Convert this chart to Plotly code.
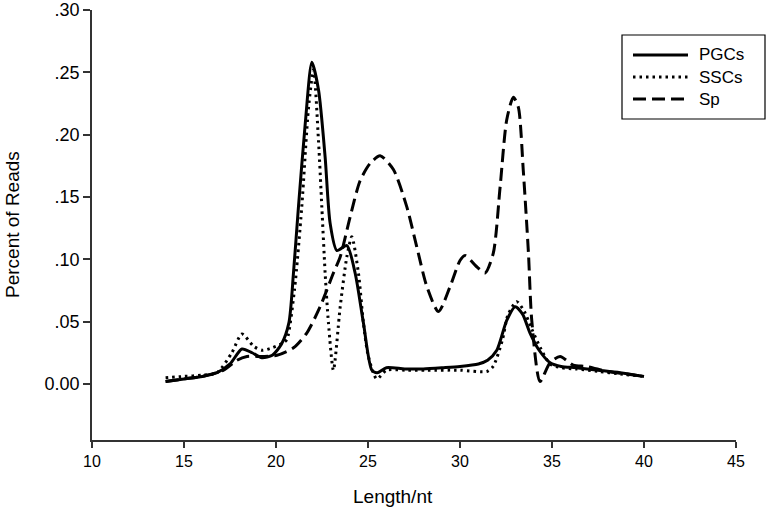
"""
Read length distribution of small RNAs (PGCs / SSCs / Sp)
"""

import plotly.graph_objects as go

# PGCs (solid)
pgc_len = [14, 15, 16, 16.8, 17.5, 18.15, 18.7, 19.23, 19.8, 20.3, 20.7, 20.95,
           21.22, 21.59, 21.95, 22.31, 22.67, 22.94, 23.31, 23.85, 24.3, 24.75,
           25.21, 25.5, 26.0, 27, 28, 29.1, 30, 31, 31.5, 32.0, 32.54, 33.0,
           33.4, 33.8, 34.3, 34.9, 35.5, 36.3, 37.5, 38.7, 40]
pgc_pct = [0.002, 0.004, 0.006, 0.009, 0.016, 0.028, 0.025, 0.021, 0.023, 0.032,
           0.049, 0.089, 0.142, 0.209, 0.258, 0.236, 0.182, 0.129, 0.107, 0.111,
           0.089, 0.049, 0.011, 0.009, 0.013, 0.012, 0.012, 0.013, 0.014, 0.016,
           0.019, 0.027, 0.051, 0.062, 0.056, 0.041, 0.027, 0.017, 0.014, 0.013,
           0.011, 0.009, 0.006]

# SSCs (dotted)
ssc_len = [14, 15, 16, 16.8, 17.6, 18.15, 18.8, 19.25, 19.8, 20.4, 20.6, 21.0,
           21.4, 21.77, 22.04, 22.31, 22.49, 22.67, 22.85, 23.12, 23.49, 23.85,
           24.12, 24.48, 24.75, 25.02, 25.48, 26.0, 27, 28.2, 30.0, 31.46, 31.8,
           32.3, 32.6, 33.08, 33.5, 33.9, 34.4, 34.9, 35.5, 36.3, 37.5, 38.7, 40]
ssc_pct = [0.005, 0.006, 0.007, 0.009, 0.025, 0.040, 0.030, 0.027, 0.029, 0.033,
           0.036, 0.075, 0.142, 0.222, 0.252, 0.195, 0.142, 0.089, 0.049, 0.011,
           0.062, 0.102, 0.118, 0.089, 0.049, 0.022, 0.004, 0.011, 0.011, 0.011,
           0.011, 0.010, 0.014, 0.035, 0.055, 0.066, 0.058, 0.044, 0.028, 0.016,
           0.013, 0.012, 0.010, 0.008, 0.006]

# Sp (dashed)
sp_len = [14, 15, 16, 17.15, 17.88, 18.42, 19.32, 20.05, 20.95, 21.68, 22.4,
          23.12, 23.49, 24.03, 24.57, 25.12, 25.66, 26.38, 27.11, 27.65, 28.2,
          28.83, 29.46, 30.0, 30.28, 30.91, 31.36, 31.81, 32.18, 32.54, 32.9,
          33.17, 33.44, 33.72, 33.9, 34.35, 34.89, 35.44, 36.16, 36.89, 38, 39, 40]
sp_pct = [0.002, 0.004, 0.006, 0.011, 0.019, 0.022, 0.022, 0.023, 0.029, 0.041,
          0.062, 0.089, 0.102, 0.134, 0.163, 0.177, 0.183, 0.172, 0.142, 0.110,
          0.078, 0.058, 0.078, 0.099, 0.103, 0.094, 0.089, 0.105, 0.158, 0.212,
          0.230, 0.222, 0.171, 0.105, 0.051, 0.002, 0.017, 0.022, 0.015, 0.014,
          0.010, 0.008, 0.006]

y_ticks = [0.0, 0.05, 0.10, 0.15, 0.20, 0.25, 0.30]
y_tick_text = ['0.00', '.05', '.10', '.15', '.20', '.25', '.30']
x_ticks = [10, 15, 20, 25, 30, 35, 40, 45]

series = [
    ('PGCs', pgc_len, pgc_pct, 'solid'),
    ('SSCs', ssc_len, ssc_pct, '2.5px,4px'),
    ('Sp', sp_len, sp_pct, '13px,6px'),
]

FONT = 'Arial, Liberation Sans, sans-serif'
W, H = 770, 514
L, R, T, B = 92, 34, 10, 74


def px(x):
    return (x - L) / (W - L - R)


def py(y):
    return (H - B - y) / (H - T - B)


fig = go.Figure()

for name, xs, ys, dash in series:
    fig.add_trace(go.Scatter(
        x=xs, y=ys, mode='lines', name=name,
        line=dict(color='black', width=3, dash=dash, shape='spline', smoothing=0.7),
        showlegend=False,
    ))

# hand-made legend box (sits partly outside the plot area, like the original)
shapes = [dict(type='rect', xref='paper', yref='paper',
               x0=px(622), x1=px(765), y0=py(35), y1=py(119),
               line=dict(color='black', width=1.2), fillcolor='white')]
annotations = []
for i, (name, xs, ys, dash) in enumerate(series):
    yy = 55 + i * 22
    shapes.append(dict(type='line', xref='paper', yref='paper',
                       x0=px(633), x1=px(688), y0=py(yy), y1=py(yy),
                       line=dict(color='black', width=3, dash=dash)))
    annotations.append(dict(x=px(697), y=py(yy), xref='paper', yref='paper',
                            text=name, showarrow=False, xanchor='left',
                            yanchor='middle', font=dict(size=17, color='black')))

# axis titles as annotations so they sit where the original has them
annotations.append(dict(x=px(393), y=py(497), xref='paper', yref='paper',
                        text='Length/nt', showarrow=False, xanchor='center',
                        yanchor='middle', font=dict(size=19, color='black')))
annotations.append(dict(x=px(12), y=py(225), xref='paper', yref='paper',
                        text='Percent of Reads', showarrow=False, textangle=-90,
                        xanchor='center', yanchor='middle',
                        font=dict(size=19, color='black')))

fig.update_layout(
    width=W, height=H,
    margin=dict(l=L, r=R, t=T, b=B),
    plot_bgcolor='white', paper_bgcolor='white',
    font=dict(family=FONT, color='black', size=16),
    shapes=shapes,
    annotations=annotations,
    showlegend=False,
    xaxis=dict(range=[10, 45], tickvals=x_ticks, showgrid=False, zeroline=False,
               showline=True, linecolor='#333', linewidth=1.5,
               ticks='outside', ticklen=6, tickwidth=1.5, tickcolor='#333',
               tickfont=dict(size=16), automargin=False),
    yaxis=dict(range=[-0.045, 0.30], tickvals=y_ticks, ticktext=y_tick_text,
               showgrid=False, zeroline=False,
               showline=True, linecolor='#333', linewidth=1.5,
               ticks='outside', ticklen=7, tickwidth=1.5, tickcolor='#333',
               tickfont=dict(size=18), automargin=False),
)

# drop the default page margin so the figure starts at the window corner
fig.write_html("out.html", config={'displayModeBar': False},
               post_script="document.body.style.margin = '0';")
